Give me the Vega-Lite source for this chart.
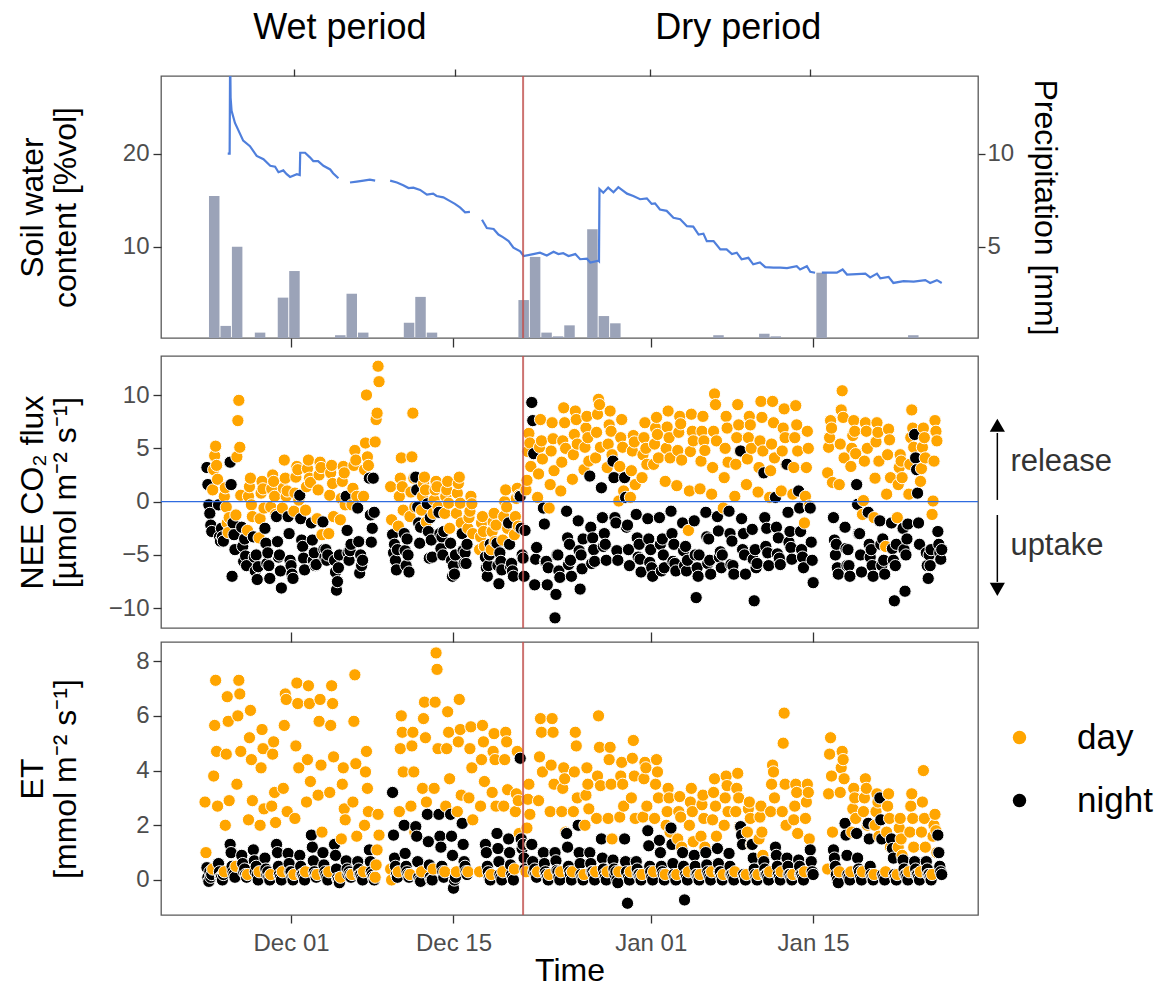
{
"$schema": "https://vega.github.io/schema/vega-lite/v6.json",
"padding": {"left": 15, "top": 9, "right": 2, "bottom": 0},
"background": "white",
"config": {
 "font": "Liberation Sans",
 "view": {"stroke": "#595959", "strokeWidth": 1.3},
 "axis": {"labelFont": "Liberation Sans", "labelFontSize": 24, "labelColor": "#4d4d4d", "tickColor": "#333333", "tickWidth": 1.3, "titleFont": "Liberation Sans", "titleFontSize": 32, "titleFontWeight": "normal", "titleColor": "#000000", "grid": false, "domain": false},
 "legend": {"labelFont": "Liberation Sans"}
},
"datasets": {
"pr": [
{"t":"2019-11-24T00:00","p":7.73},{"t":"2019-11-25T00:00","p":0.74},{"t":"2019-11-26T00:00","p":5.0},{"t":"2019-11-28T00:00","p":0.38},{"t":"2019-11-30T00:00","p":2.26},{"t":"2019-12-01T00:00","p":3.69},{"t":"2019-12-05T00:00","p":0.24},{"t":"2019-12-06T00:00","p":2.47},{"t":"2019-12-07T00:00","p":0.38},{"t":"2019-12-11T00:00","p":0.91},{"t":"2019-12-12T00:00","p":2.3},{"t":"2019-12-13T00:00","p":0.38},{"t":"2019-12-16T00:00","p":0.08},{"t":"2019-12-21T00:00","p":2.13},{"t":"2019-12-22T00:00","p":4.45},{"t":"2019-12-23T00:00","p":0.38},{"t":"2019-12-24T00:00","p":0.18},{"t":"2019-12-25T00:00","p":0.77},{"t":"2019-12-27T00:00","p":5.93},{"t":"2019-12-28T00:00","p":1.27},{"t":"2019-12-29T00:00","p":0.88},{"t":"2020-01-07T00:00","p":0.24},{"t":"2020-01-11T00:00","p":0.32},{"t":"2020-01-12T00:00","p":0.18},{"t":"2020-01-16T00:00","p":3.6},{"t":"2020-01-24T00:00","p":0.24}
],
"swc": [
{"t":"2019-11-25T13:00","v":20.0,"s":1},{"t":"2019-11-25T17:00","v":20.0,"s":1},{"t":"2019-11-25T18:00","v":31,"s":1},{"t":"2019-11-25T19:00","v":26.0,"s":1},{"t":"2019-11-25T21:00","v":24.6,"s":1},{"t":"2019-11-26T04:00","v":23.3,"s":1},{"t":"2019-11-26T21:00","v":21.4,"s":1},{"t":"2019-11-27T11:00","v":20.8,"s":1},{"t":"2019-11-28T01:00","v":19.75,"s":1},{"t":"2019-11-28T15:00","v":19.4,"s":1},{"t":"2019-11-29T05:00","v":18.7,"s":1},{"t":"2019-11-29T15:00","v":18.6,"s":1},{"t":"2019-11-29T22:00","v":18.0,"s":1},{"t":"2019-11-30T08:00","v":18.2,"s":1},{"t":"2019-11-30T15:00","v":17.8,"s":1},{"t":"2019-11-30T22:00","v":17.5,"s":1},{"t":"2019-12-01T12:00","v":17.8,"s":1},{"t":"2019-12-01T18:00","v":17.7,"s":1},{"t":"2019-12-01T19:00","v":20.1,"s":1},{"t":"2019-12-02T05:00","v":20.1,"s":1},{"t":"2019-12-02T15:00","v":19.6,"s":1},{"t":"2019-12-02T22:00","v":19.2,"s":1},{"t":"2019-12-03T08:00","v":19.2,"s":1},{"t":"2019-12-03T19:00","v":18.7,"s":1},{"t":"2019-12-04T09:00","v":18.3,"s":1},{"t":"2019-12-04T15:00","v":17.9,"s":1},{"t":"2019-12-05T02:00","v":17.35,"s":1},
{"t":"2019-12-06T02:00","v":16.9,"s":2},{"t":"2019-12-06T16:00","v":17.0,"s":2},{"t":"2019-12-07T06:00","v":17.1,"s":2},{"t":"2019-12-07T19:00","v":17.2,"s":2},{"t":"2019-12-08T06:00","v":17.1,"s":2},
{"t":"2019-12-09T13:00","v":17.1,"s":3},{"t":"2019-12-10T03:00","v":16.9,"s":3},{"t":"2019-12-10T16:00","v":16.6,"s":3},{"t":"2019-12-11T03:00","v":16.3,"s":3},{"t":"2019-12-11T13:00","v":16.35,"s":3},{"t":"2019-12-12T03:00","v":16.1,"s":3},{"t":"2019-12-12T17:00","v":15.6,"s":3},{"t":"2019-12-13T06:00","v":15.7,"s":3},{"t":"2019-12-13T13:00","v":15.45,"s":3},{"t":"2019-12-14T03:00","v":15.3,"s":3},{"t":"2019-12-14T17:00","v":14.9,"s":3},{"t":"2019-12-15T03:00","v":14.6,"s":3},{"t":"2019-12-15T14:00","v":14.2,"s":3},{"t":"2019-12-16T00:00","v":13.7,"s":3},{"t":"2019-12-16T10:00","v":13.75,"s":3},
{"t":"2019-12-17T11:00","v":12.9,"s":4},{"t":"2019-12-17T21:00","v":12.0,"s":4},{"t":"2019-12-18T11:00","v":11.9,"s":4},{"t":"2019-12-18T21:00","v":11.3,"s":4},{"t":"2019-12-19T07:00","v":11.0,"s":4},{"t":"2019-12-19T18:00","v":10.6,"s":4},{"t":"2019-12-20T04:00","v":9.9,"s":4},{"t":"2019-12-20T18:00","v":9.5,"s":4},{"t":"2019-12-21T01:00","v":9.0,"s":4},{"t":"2019-12-21T21:00","v":9.2,"s":4},{"t":"2019-12-22T11:00","v":9.35,"s":4},{"t":"2019-12-23T01:00","v":9.05,"s":4},{"t":"2019-12-23T15:00","v":9.45,"s":4},{"t":"2019-12-24T01:00","v":9.2,"s":4},{"t":"2019-12-24T11:00","v":9.3,"s":4},{"t":"2019-12-24T22:00","v":9.0,"s":4},{"t":"2019-12-25T12:00","v":9.2,"s":4},{"t":"2019-12-25T22:00","v":8.65,"s":4},{"t":"2019-12-26T12:00","v":8.7,"s":4},{"t":"2019-12-26T19:00","v":8.3,"s":4},{"t":"2019-12-27T12:00","v":8.5,"s":4},{"t":"2019-12-27T13:00","v":8.45,"s":4},{"t":"2019-12-27T14:00","v":16.2,"s":4},{"t":"2019-12-27T22:00","v":15.8,"s":4},{"t":"2019-12-28T08:00","v":16.35,"s":4},{"t":"2019-12-28T19:00","v":15.85,"s":4},{"t":"2019-12-29T05:00","v":16.4,"s":4},{"t":"2019-12-29T23:00","v":15.7,"s":4},{"t":"2019-12-30T12:00","v":15.45,"s":4},{"t":"2019-12-31T02:00","v":15.1,"s":4},{"t":"2019-12-31T16:00","v":15.2,"s":4},{"t":"2020-01-01T02:00","v":14.6,"s":4},{"t":"2020-01-01T09:00","v":14.65,"s":4},{"t":"2020-01-01T19:00","v":14.0,"s":4},{"t":"2020-01-02T09:00","v":13.85,"s":4},{"t":"2020-01-02T23:00","v":13.1,"s":4},{"t":"2020-01-03T13:00","v":12.95,"s":4},{"t":"2020-01-04T03:00","v":12.2,"s":4},{"t":"2020-01-04T16:00","v":12.15,"s":4},{"t":"2020-01-05T03:00","v":11.3,"s":4},{"t":"2020-01-05T13:00","v":11.4,"s":4},{"t":"2020-01-05T20:00","v":10.6,"s":4},{"t":"2020-01-06T10:00","v":10.6,"s":4},{"t":"2020-01-07T00:00","v":9.7,"s":4},{"t":"2020-01-07T13:00","v":9.7,"s":4},{"t":"2020-01-08T00:00","v":9.2,"s":4},{"t":"2020-01-08T10:00","v":9.35,"s":4},{"t":"2020-01-08T20:00","v":8.65,"s":4},{"t":"2020-01-09T10:00","v":8.8,"s":4},{"t":"2020-01-09T20:00","v":8.1,"s":4},{"t":"2020-01-10T10:00","v":8.3,"s":4},{"t":"2020-01-10T21:00","v":7.8,"s":4},{"t":"2020-01-11T14:00","v":7.75,"s":4},{"t":"2020-01-12T04:00","v":7.75,"s":4},{"t":"2020-01-12T18:00","v":7.7,"s":4},{"t":"2020-01-13T14:00","v":7.9,"s":4},{"t":"2020-01-13T21:00","v":7.55,"s":4},{"t":"2020-01-14T11:00","v":7.9,"s":4},{"t":"2020-01-14T18:00","v":7.3,"s":4},{"t":"2020-01-15T04:00","v":7.2,"s":4},
{"t":"2020-01-15T18:00","v":7.2,"s":5},{"t":"2020-01-17T01:00","v":7.2,"s":5},{"t":"2020-01-17T13:00","v":7.55,"s":5},{"t":"2020-01-17T22:00","v":7.0,"s":5},{"t":"2020-01-18T18:00","v":7.05,"s":5},{"t":"2020-01-19T12:00","v":7.1,"s":5},{"t":"2020-01-19T22:00","v":6.7,"s":5},{"t":"2020-01-20T12:00","v":7.1,"s":5},{"t":"2020-01-20T19:00","v":6.6,"s":5},{"t":"2020-01-21T12:00","v":6.75,"s":5},{"t":"2020-01-21T22:00","v":6.1,"s":5},{"t":"2020-01-22T19:00","v":6.3,"s":5},{"t":"2020-01-23T16:00","v":6.25,"s":5},{"t":"2020-01-24T16:00","v":6.4,"s":5},{"t":"2020-01-25T02:00","v":6.1,"s":5},{"t":"2020-01-25T16:00","v":6.4,"s":5},{"t":"2020-01-26T02:00","v":6.1,"s":5}
],
"per": [{"t":"2019-12-05T05:00","v":33.5,"lab":"Wet period"},{"t":"2020-01-08T13:00","v":33.5,"lab":"Dry period"}],
"red": [{"t":"2019-12-21T00:00"}],
"zero": [{"n":0}],
"arr": [{"t":"2020-01-30T21:00","n":0.16,"n2":6.44},{"t":"2020-01-30T21:00","n":-1.25,"n2":-7.53}],
"head": [{"t":"2020-01-30T21:00","n":7.17,"sh":"triangle-up"},{"t":"2020-01-30T21:00","n":-8.23,"sh":"triangle-down"}],
"lab": [{"t":"2020-02-01T00:00","n":3.72,"lab":"release"},{"t":"2020-02-01T00:00","n":-4.15,"lab":"uptake"}],
"obs": [
{"t":"2019-11-23T14:00","e":2.85,"d":"day"},{"t":"2019-11-23T16:00","e":1.0,"d":"day"},{"t":"2019-11-23T18:00","n":3.2,"e":0.45,"d":"night"},{"t":"2019-11-23T20:00","n":1.6,"e":0.1,"d":"night"},{"t":"2019-11-23T22:00","n":-0.3,"e":-0.05,"d":"night"},
{"t":"2019-11-24T00:00","n":-1.1,"e":0.3,"d":"night"},{"t":"2019-11-24T02:00","n":-2.2,"e":0.1,"d":"night"},{"t":"2019-11-24T04:00","n":-2.8,"e":0.2,"d":"night"},{"t":"2019-11-24T06:00","n":1.1,"e":0.4,"d":"day"},{"t":"2019-11-24T08:00","n":3.0,"e":3.8,"d":"day"},{"t":"2019-11-24T10:00","n":4.3,"e":5.65,"d":"day"},{"t":"2019-11-24T12:00","n":5.2,"e":7.3,"d":"day"},{"t":"2019-11-24T14:00","n":3.4,"e":4.7,"d":"day"},{"t":"2019-11-24T16:00","n":2.1,"e":2.7,"d":"day"},{"t":"2019-11-24T18:00","n":-0.3,"e":0.6,"d":"night"},{"t":"2019-11-24T20:00","n":-3.3,"e":0.3,"d":"night"},{"t":"2019-11-24T22:00","n":-3.7,"e":0.1,"d":"night"},
{"t":"2019-11-25T00:00","n":-2.5,"e":0.1,"d":"night"},{"t":"2019-11-25T02:00","n":-3.3,"e":0.0,"d":"night"},{"t":"2019-11-25T04:00","n":-3.7,"e":0.2,"d":"night"},{"t":"2019-11-25T06:00","n":0.5,"e":0.3,"d":"day"},{"t":"2019-11-25T08:00","n":1.3,"e":2.0,"d":"day"},{"t":"2019-11-25T10:00","n":-0.5,"e":4.6,"d":"day"},{"t":"2019-11-25T12:00","n":-2.0,"e":6.7,"d":"day"},{"t":"2019-11-25T14:00","n":-2.9,"e":5.8,"d":"day"},{"t":"2019-11-25T16:00","n":-1.5,"e":2.9,"d":"day"},{"t":"2019-11-25T18:00","n":3.7,"e":1.3,"d":"night"},{"t":"2019-11-25T20:00","n":1.6,"e":1.0,"d":"night"},{"t":"2019-11-25T22:00","n":-7.0,"e":0.5,"d":"night"},
{"t":"2019-11-26T00:00","n":-2.0,"e":0.3,"d":"night"},{"t":"2019-11-26T02:00","n":-3.1,"e":0.2,"d":"night"},{"t":"2019-11-26T04:00","n":-4.5,"e":0.1,"d":"night"},{"t":"2019-11-26T06:00","n":-1.25,"e":0.5,"d":"day"},{"t":"2019-11-26T08:00","n":4.2,"e":3.5,"d":"day"},{"t":"2019-11-26T10:00","n":7.6,"e":6.0,"d":"day"},{"t":"2019-11-26T12:00","n":9.5,"e":7.3,"d":"day"},{"t":"2019-11-26T14:00","n":5.1,"e":6.8,"d":"day"},{"t":"2019-11-26T16:00","n":0.6,"e":4.7,"d":"day"},{"t":"2019-11-26T18:00","n":-2.4,"e":0.9,"d":"night"},{"t":"2019-11-26T20:00","n":-4.2,"e":0.6,"d":"night"},{"t":"2019-11-26T22:00","n":-5.6,"e":0.3,"d":"night"},
{"t":"2019-11-27T00:00","n":-3.5,"e":0.4,"d":"night"},{"t":"2019-11-27T02:00","n":-5.1,"e":0.2,"d":"night"},{"t":"2019-11-27T04:00","n":-6.0,"e":0.1,"d":"night"},{"t":"2019-11-27T06:00","n":-2.7,"e":0.2,"d":"day"},{"t":"2019-11-27T08:00","n":0.5,"e":2.2,"d":"day"},{"t":"2019-11-27T10:00","n":1.4,"e":5.2,"d":"day"},{"t":"2019-11-27T12:00","n":2.2,"e":6.2,"d":"day"},{"t":"2019-11-27T14:00","n":-0.3,"e":4.4,"d":"day"},{"t":"2019-11-27T16:00","n":-1.4,"e":2.9,"d":"day"},{"t":"2019-11-27T18:00","n":-3.3,"e":1.1,"d":"night"},{"t":"2019-11-27T20:00","n":-5.2,"e":0.7,"d":"night"},{"t":"2019-11-27T22:00","n":-6.5,"e":0.3,"d":"night"},
{"t":"2019-11-28T00:00","n":-5.0,"e":0.5,"d":"night"},{"t":"2019-11-28T02:00","n":-7.3,"e":0.2,"d":"night"},{"t":"2019-11-28T04:00","n":-6.1,"e":0.0,"d":"night"},{"t":"2019-11-28T06:00","n":-3.4,"e":0.3,"d":"day"},{"t":"2019-11-28T08:00","n":-1.6,"e":2.0,"d":"day"},{"t":"2019-11-28T10:00","n":0.8,"e":4.1,"d":"day"},{"t":"2019-11-28T12:00","n":1.9,"e":5.5,"d":"day"},{"t":"2019-11-28T14:00","n":1.2,"e":4.8,"d":"day"},{"t":"2019-11-28T16:00","n":-0.6,"e":2.6,"d":"day"},{"t":"2019-11-28T18:00","n":-2.5,"e":0.8,"d":"night"},{"t":"2019-11-28T20:00","n":-3.9,"e":0.4,"d":"night"},{"t":"2019-11-28T22:00","n":-5.8,"e":0.2,"d":"night"},
{"t":"2019-11-29T00:00","n":-4.8,"e":0.3,"d":"night"},{"t":"2019-11-29T02:00","n":-6.0,"e":0.1,"d":"night"},{"t":"2019-11-29T04:00","n":-7.2,"e":0.0,"d":"night"},{"t":"2019-11-29T06:00","n":-0.5,"e":0.2,"d":"day"},{"t":"2019-11-29T08:00","n":1.2,"e":2.7,"d":"day"},{"t":"2019-11-29T10:00","n":2.5,"e":4.6,"d":"day"},{"t":"2019-11-29T12:00","n":1.9,"e":5.05,"d":"day"},{"t":"2019-11-29T14:00","n":0.5,"e":3.2,"d":"day"},{"t":"2019-11-29T16:00","n":-1.2,"e":2.1,"d":"day"},{"t":"2019-11-29T18:00","n":-1.4,"e":1.3,"d":"night"},{"t":"2019-11-29T20:00","n":-3.75,"e":1.0,"d":"night"},{"t":"2019-11-29T22:00","n":-5.2,"e":0.5,"d":"night"},
{"t":"2019-11-30T00:00","n":-5.0,"e":0.2,"d":"night"},{"t":"2019-11-30T02:00","n":-6.5,"e":0.1,"d":"night"},{"t":"2019-11-30T04:00","n":-8.1,"e":0.0,"d":"night"},{"t":"2019-11-30T06:00","n":-0.6,"e":0.3,"d":"day"},{"t":"2019-11-30T08:00","n":1.25,"e":3.35,"d":"day"},{"t":"2019-11-30T10:00","n":3.9,"e":5.65,"d":"day"},{"t":"2019-11-30T12:00","n":2.2,"e":6.8,"d":"day"},{"t":"2019-11-30T14:00","n":0.5,"e":6.6,"d":"day"},{"t":"2019-11-30T16:00","n":1.0,"e":2.5,"d":"day"},{"t":"2019-11-30T18:00","n":-1.4,"e":0.97,"d":"night"},{"t":"2019-11-30T20:00","n":-3.0,"e":0.6,"d":"night"},{"t":"2019-11-30T22:00","n":-5.5,"e":0.3,"d":"night"},
{"t":"2019-12-01T00:00","n":-6.0,"e":0.3,"d":"night"},{"t":"2019-12-01T02:00","n":-6.8,"e":0.1,"d":"night"},{"t":"2019-12-01T04:00","n":-7.2,"e":0.0,"d":"night"},{"t":"2019-12-01T06:00","n":-0.9,"e":0.2,"d":"day"},{"t":"2019-12-01T08:00","n":0.8,"e":2.25,"d":"day"},{"t":"2019-12-01T10:00","n":2.3,"e":4.9,"d":"day"},{"t":"2019-12-01T12:00","n":3.3,"e":7.2,"d":"day"},{"t":"2019-12-01T14:00","n":3.0,"e":6.45,"d":"day"},{"t":"2019-12-01T16:00","n":0.15,"e":4.1,"d":"day"},{"t":"2019-12-01T18:00","n":0.6,"e":0.9,"d":"night"},{"t":"2019-12-01T20:00","n":-1.6,"e":0.5,"d":"night"},{"t":"2019-12-01T22:00","n":-3.6,"e":0.2,"d":"night"},
{"t":"2019-12-02T00:00","n":-4.2,"e":0.2,"d":"night"},{"t":"2019-12-02T02:00","n":-5.3,"e":0.1,"d":"night"},{"t":"2019-12-02T04:00","n":-6.4,"e":0.0,"d":"night"},{"t":"2019-12-02T06:00","n":-0.8,"e":0.3,"d":"day"},{"t":"2019-12-02T08:00","n":1.4,"e":2.85,"d":"day"},{"t":"2019-12-02T10:00","n":3.1,"e":4.4,"d":"day"},{"t":"2019-12-02T12:00","n":3.9,"e":7.1,"d":"day"},{"t":"2019-12-02T14:00","n":2.2,"e":6.45,"d":"day"},{"t":"2019-12-02T16:00","n":1.8,"e":3.6,"d":"day"},{"t":"2019-12-02T18:00","n":-2.0,"e":1.64,"d":"night"},{"t":"2019-12-02T20:00","n":-3.6,"e":1.2,"d":"night"},{"t":"2019-12-02T22:00","n":-5.5,"e":0.7,"d":"night"},
{"t":"2019-12-03T00:00","n":-4.8,"e":0.3,"d":"night"},{"t":"2019-12-03T02:00","n":-6.0,"e":0.2,"d":"night"},{"t":"2019-12-03T04:00","n":-5.9,"e":0.1,"d":"night"},{"t":"2019-12-03T06:00","n":-1.6,"e":0.2,"d":"day"},{"t":"2019-12-03T08:00","n":1.1,"e":3.1,"d":"day"},{"t":"2019-12-03T10:00","n":2.5,"e":5.8,"d":"day"},{"t":"2019-12-03T12:00","n":3.7,"e":6.6,"d":"day"},{"t":"2019-12-03T14:00","n":3.2,"e":4.2,"d":"day"},{"t":"2019-12-03T16:00","n":-3.1,"e":1.75,"d":"day"},{"t":"2019-12-03T18:00","n":-1.9,"e":1.0,"d":"night"},{"t":"2019-12-03T20:00","n":-4.5,"e":0.55,"d":"night"},{"t":"2019-12-03T22:00","n":-5.2,"e":0.3,"d":"night"},
{"t":"2019-12-04T00:00","n":-4.5,"e":0.2,"d":"night"},{"t":"2019-12-04T02:00","n":-5.5,"e":0.1,"d":"night"},{"t":"2019-12-04T04:00","n":-5.0,"e":0.0,"d":"night"},{"t":"2019-12-04T06:00","n":-3.0,"e":0.3,"d":"day"},{"t":"2019-12-04T08:00","n":0.6,"e":3.2,"d":"day"},{"t":"2019-12-04T10:00","n":2.7,"e":5.65,"d":"day"},{"t":"2019-12-04T12:00","n":3.4,"e":7.1,"d":"day"},{"t":"2019-12-04T14:00","n":1.7,"e":6.45,"d":"day"},{"t":"2019-12-04T16:00","n":-1.4,"e":4.5,"d":"day"},{"t":"2019-12-04T18:00","n":-5.5,"e":1.3,"d":"night"},{"t":"2019-12-04T20:00","n":-6.6,"e":0.9,"d":"night"},{"t":"2019-12-04T22:00","n":-8.3,"e":0.4,"d":"night"},
{"t":"2019-12-05T00:00","n":-7.5,"e":0.06,"d":"night"},{"t":"2019-12-05T02:00","n":-6.2,"e":0.0,"d":"night"},{"t":"2019-12-05T04:00","n":-5.0,"e":-0.1,"d":"night"},{"t":"2019-12-05T06:00","n":-1.7,"e":0.1,"d":"day"},{"t":"2019-12-05T08:00","n":0.3,"e":1.5,"d":"day"},{"t":"2019-12-05T10:00","n":1.9,"e":3.5,"d":"day"},{"t":"2019-12-05T12:00","n":3.3,"e":4.1,"d":"day"},{"t":"2019-12-05T14:00","n":2.7,"e":2.6,"d":"day"},{"t":"2019-12-05T16:00","n":-0.3,"e":2.2,"d":"day"},{"t":"2019-12-05T18:00","n":0.5,"e":0.7,"d":"night"},{"t":"2019-12-05T20:00","n":-2.7,"e":0.4,"d":"night"},{"t":"2019-12-05T22:00","n":-4.8,"e":0.2,"d":"night"},
{"t":"2019-12-06T00:00","n":-5.5,"e":0.3,"d":"night"},{"t":"2019-12-06T02:00","n":-4.6,"e":0.2,"d":"night"},{"t":"2019-12-06T04:00","n":-4.0,"e":0.1,"d":"night"},{"t":"2019-12-06T06:00","n":-0.3,"e":0.2,"d":"day"},{"t":"2019-12-06T08:00","n":1.25,"e":2.85,"d":"day"},{"t":"2019-12-06T10:00","n":3.4,"e":5.8,"d":"day"},{"t":"2019-12-06T12:00","n":4.8,"e":7.5,"d":"day"},{"t":"2019-12-06T14:00","n":3.9,"e":4.25,"d":"day"},{"t":"2019-12-06T16:00","n":0.5,"e":1.6,"d":"day"},{"t":"2019-12-06T18:00","n":-0.6,"e":0.67,"d":"night"},{"t":"2019-12-06T20:00","n":-3.75,"e":0.4,"d":"night"},{"t":"2019-12-06T22:00","n":-6.7,"e":0.2,"d":"night"},
{"t":"2019-12-07T00:00","n":-5.0,"e":0.2,"d":"night"},{"t":"2019-12-07T02:00","n":-6.0,"e":0.1,"d":"night"},{"t":"2019-12-07T04:00","n":-5.5,"e":0.0,"d":"night"},{"t":"2019-12-07T06:00","n":0.5,"e":0.3,"d":"day"},{"t":"2019-12-07T08:00","n":3.0,"e":2.0,"d":"day"},{"t":"2019-12-07T10:00","n":5.5,"e":3.95,"d":"day"},{"t":"2019-12-07T12:00","n":10.0,"e":4.7,"d":"day"},{"t":"2019-12-07T14:00","n":4.2,"e":3.35,"d":"day"},{"t":"2019-12-07T16:00","n":3.4,"e":2.5,"d":"day"},{"t":"2019-12-07T18:00","n":2.2,"e":1.1,"d":"night"},{"t":"2019-12-07T20:00","n":-1.25,"e":0.67,"d":"night"},{"t":"2019-12-07T22:00","n":-3.8,"e":0.3,"d":"night"},
{"t":"2019-12-08T00:00","n":-2.5,"e":0.2,"d":"night"},{"t":"2019-12-08T02:00","n":2.2,"e":0.1,"d":"night"},{"t":"2019-12-08T04:00","n":-1.0,"e":0.0,"d":"night"},{"t":"2019-12-08T06:00","n":5.6,"e":0.1,"d":"day"},{"t":"2019-12-08T08:00","n":7.7,"e":0.55,"d":"day"},{"t":"2019-12-08T10:00","n":8.3,"e":1.1,"d":"day"},{"t":"2019-12-08T12:00","n":12.7,"e":2.4,"d":"day"},{"t":"2019-12-08T14:00","n":11.25,"e":1.64,"d":"day"},
{"t":"2019-12-09T14:00","n":1.4,"e":0.4,"d":"day"},{"t":"2019-12-09T16:00","n":-1.7,"e":0.0,"d":"day"},{"t":"2019-12-09T18:00","n":-3.1,"e":3.2,"d":"night"},{"t":"2019-12-09T20:00","n":-4.8,"e":1.64,"d":"night"},{"t":"2019-12-09T22:00","n":-4.0,"e":0.8,"d":"night"},
{"t":"2019-12-10T00:00","n":-5.5,"e":0.5,"d":"night"},{"t":"2019-12-10T02:00","n":-6.4,"e":0.2,"d":"night"},{"t":"2019-12-10T04:00","n":-4.5,"e":0.1,"d":"night"},{"t":"2019-12-10T06:00","n":-2.3,"e":0.3,"d":"day"},{"t":"2019-12-10T08:00","n":0.5,"e":2.5,"d":"day"},{"t":"2019-12-10T10:00","n":2.2,"e":4.8,"d":"day"},{"t":"2019-12-10T12:00","n":4.1,"e":6.0,"d":"day"},{"t":"2019-12-10T14:00","n":1.4,"e":5.4,"d":"day"},{"t":"2019-12-10T16:00","n":-0.8,"e":3.95,"d":"day"},{"t":"2019-12-10T18:00","n":-3.0,"e":2.0,"d":"night"},{"t":"2019-12-10T20:00","n":-4.6,"e":0.97,"d":"night"},{"t":"2019-12-10T22:00","n":-6.0,"e":0.5,"d":"night"},
{"t":"2019-12-11T00:00","n":-3.5,"e":0.3,"d":"night"},{"t":"2019-12-11T02:00","n":-5.0,"e":0.2,"d":"night"},{"t":"2019-12-11T04:00","n":-6.6,"e":0.1,"d":"night"},{"t":"2019-12-11T06:00","n":-1.4,"e":0.2,"d":"day"},{"t":"2019-12-11T08:00","n":0.9,"e":2.7,"d":"day"},{"t":"2019-12-11T10:00","n":4.2,"e":4.9,"d":"day"},{"t":"2019-12-11T12:00","n":8.3,"e":5.4,"d":"day"},{"t":"2019-12-11T14:00","n":2.2,"e":3.95,"d":"day"},{"t":"2019-12-11T16:00","n":-0.5,"e":1.75,"d":"day"},{"t":"2019-12-11T18:00","n":2.3,"e":1.95,"d":"night"},{"t":"2019-12-11T20:00","n":1.1,"e":1.6,"d":"night"},{"t":"2019-12-11T22:00","n":-0.5,"e":0.67,"d":"night"},
{"t":"2019-12-12T00:00","n":-2.0,"e":0.1,"d":"night"},{"t":"2019-12-12T02:00","n":-3.9,"e":0.0,"d":"night"},{"t":"2019-12-12T04:00","n":-2.4,"e":-0.05,"d":"night"},{"t":"2019-12-12T06:00","n":-0.8,"e":0.3,"d":"day"},{"t":"2019-12-12T08:00","n":0.5,"e":3.35,"d":"day"},{"t":"2019-12-12T10:00","n":1.7,"e":5.9,"d":"day"},{"t":"2019-12-12T12:00","n":2.3,"e":6.5,"d":"day"},{"t":"2019-12-12T14:00","n":1.1,"e":5.2,"d":"day"},{"t":"2019-12-12T16:00","n":-1.9,"e":2.85,"d":"day"},{"t":"2019-12-12T18:00","n":-0.2,"e":2.4,"d":"night"},{"t":"2019-12-12T20:00","n":-2.8,"e":1.4,"d":"night"},{"t":"2019-12-12T22:00","n":-5.3,"e":0.55,"d":"night"},
{"t":"2019-12-13T00:00","n":-1.5,"e":0.1,"d":"night"},{"t":"2019-12-13T02:00","n":-3.6,"e":0.0,"d":"night"},{"t":"2019-12-13T04:00","n":-5.2,"e":0.0,"d":"night"},{"t":"2019-12-13T06:00","n":-1.1,"e":0.4,"d":"day"},{"t":"2019-12-13T08:00","n":0.15,"e":3.35,"d":"day"},{"t":"2019-12-13T10:00","n":1.1,"e":6.5,"d":"day"},{"t":"2019-12-13T12:00","n":1.9,"e":8.3,"d":"day"},{"t":"2019-12-13T14:00","n":1.4,"e":7.7,"d":"day"},{"t":"2019-12-13T16:00","n":-0.5,"e":4.8,"d":"day"},{"t":"2019-12-13T18:00","n":-1.0,"e":2.4,"d":"night"},{"t":"2019-12-13T20:00","n":-3.0,"e":1.6,"d":"night"},{"t":"2019-12-13T22:00","n":-4.4,"e":1.2,"d":"night"},
{"t":"2019-12-14T00:00","n":-3.3,"e":0.5,"d":"night"},{"t":"2019-12-14T02:00","n":-5.0,"e":0.3,"d":"night"},{"t":"2019-12-14T04:00","n":-2.8,"e":0.1,"d":"night"},{"t":"2019-12-14T06:00","n":-1.1,"e":0.3,"d":"day"},{"t":"2019-12-14T08:00","n":0.5,"e":2.7,"d":"day"},{"t":"2019-12-14T10:00","n":1.1,"e":4.8,"d":"day"},{"t":"2019-12-14T12:00","n":1.9,"e":6.15,"d":"day"},{"t":"2019-12-14T14:00","n":-0.15,"e":5.4,"d":"day"},{"t":"2019-12-14T16:00","n":-2.5,"e":3.7,"d":"day"},{"t":"2019-12-14T18:00","n":-3.9,"e":2.4,"d":"night"},{"t":"2019-12-14T20:00","n":-5.5,"e":1.6,"d":"night"},{"t":"2019-12-14T22:00","n":-7.0,"e":0.9,"d":"night"},
{"t":"2019-12-15T00:00","n":-6.0,"e":-0.3,"d":"night"},{"t":"2019-12-15T02:00","n":-6.8,"e":0.0,"d":"night"},{"t":"2019-12-15T04:00","n":-5.0,"e":0.1,"d":"night"},{"t":"2019-12-15T06:00","n":-1.1,"e":0.3,"d":"day"},{"t":"2019-12-15T08:00","n":0.8,"e":2.5,"d":"day"},{"t":"2019-12-15T10:00","n":1.7,"e":5.05,"d":"day"},{"t":"2019-12-15T12:00","n":2.3,"e":6.6,"d":"day"},{"t":"2019-12-15T14:00","n":-0.15,"e":5.5,"d":"day"},{"t":"2019-12-15T16:00","n":-2.0,"e":3.1,"d":"day"},{"t":"2019-12-15T18:00","n":-3.0,"e":2.07,"d":"night"},{"t":"2019-12-15T20:00","n":-4.6,"e":1.3,"d":"night"},{"t":"2019-12-15T22:00","n":-5.8,"e":0.67,"d":"night"},
{"t":"2019-12-16T00:00","n":-4.8,"e":0.5,"d":"night"},{"t":"2019-12-16T02:00","n":-5.8,"e":0.3,"d":"night"},{"t":"2019-12-16T04:00","n":-4.0,"e":0.2,"d":"night"},{"t":"2019-12-16T06:00","n":-2.5,"e":0.3,"d":"day"},{"t":"2019-12-16T08:00","n":-1.5,"e":3.0,"d":"day"},{"t":"2019-12-16T10:00","n":-0.9,"e":4.8,"d":"day"},{"t":"2019-12-16T12:00","n":0.5,"e":5.6,"d":"day"},{"t":"2019-12-16T14:00","n":-0.2,"e":4.1,"d":"day"},{"t":"2019-12-16T16:00","n":-3.0,"e":2.2,"d":"day"},
{"t":"2019-12-17T06:00","n":-4.5,"e":0.3,"d":"day"},{"t":"2019-12-17T08:00","n":-3.3,"e":2.7,"d":"day"},{"t":"2019-12-17T10:00","n":-2.0,"e":4.4,"d":"day"},{"t":"2019-12-17T12:00","n":-1.4,"e":5.65,"d":"day"},{"t":"2019-12-17T14:00","n":-2.8,"e":5.05,"d":"day"},{"t":"2019-12-17T16:00","n":-4.2,"e":3.6,"d":"day"},{"t":"2019-12-17T18:00","n":-5.2,"e":1.3,"d":"night"},{"t":"2019-12-17T20:00","n":-6.2,"e":1.0,"d":"night"},{"t":"2019-12-17T22:00","n":-7.0,"e":0.5,"d":"night"},
{"t":"2019-12-18T00:00","n":-6.0,"e":0.3,"d":"night"},{"t":"2019-12-18T02:00","n":-5.0,"e":0.1,"d":"night"},{"t":"2019-12-18T04:00","n":-4.0,"e":0.0,"d":"night"},{"t":"2019-12-18T06:00","n":-4.5,"e":0.2,"d":"day"},{"t":"2019-12-18T08:00","n":-2.8,"e":3.2,"d":"day"},{"t":"2019-12-18T10:00","n":-1.9,"e":4.7,"d":"day"},{"t":"2019-12-18T12:00","n":-1.1,"e":5.35,"d":"day"},{"t":"2019-12-18T14:00","n":-3.75,"e":4.4,"d":"day"},{"t":"2019-12-18T16:00","n":-2.2,"e":2.7,"d":"day"},{"t":"2019-12-18T18:00","n":-3.9,"e":1.7,"d":"night"},{"t":"2019-12-18T20:00","n":-6.0,"e":1.15,"d":"night"},{"t":"2019-12-18T22:00","n":-7.7,"e":0.67,"d":"night"},
{"t":"2019-12-19T00:00","n":-4.8,"e":0.2,"d":"night"},{"t":"2019-12-19T02:00","n":-5.6,"e":0.1,"d":"night"},{"t":"2019-12-19T04:00","n":-6.4,"e":0.0,"d":"night"},{"t":"2019-12-19T06:00","n":-3.6,"e":0.3,"d":"day"},{"t":"2019-12-19T08:00","n":-1.4,"e":2.7,"d":"day"},{"t":"2019-12-19T10:00","n":0.0,"e":4.4,"d":"day"},{"t":"2019-12-19T12:00","n":1.1,"e":5.4,"d":"day"},{"t":"2019-12-19T14:00","n":-0.5,"e":5.05,"d":"day"},{"t":"2019-12-19T16:00","n":-2.5,"e":3.3,"d":"day"},{"t":"2019-12-19T18:00","n":-2.0,"e":1.5,"d":"night"},{"t":"2019-12-19T20:00","n":-4.0,"e":1.0,"d":"night"},{"t":"2019-12-19T22:00","n":-6.1,"e":0.55,"d":"night"},
{"t":"2019-12-20T00:00","n":-5.8,"e":0.2,"d":"night"},{"t":"2019-12-20T02:00","n":-6.5,"e":0.1,"d":"night"},{"t":"2019-12-20T04:00","n":-7.0,"e":0.0,"d":"night"},{"t":"2019-12-20T06:00","n":-3.1,"e":0.4,"d":"day"},{"t":"2019-12-20T08:00","n":-1.4,"e":2.5,"d":"day"},{"t":"2019-12-20T10:00","n":0.3,"e":3.15,"d":"day"},{"t":"2019-12-20T12:00","n":1.25,"e":4.7,"d":"day"},{"t":"2019-12-20T14:00","n":-2.3,"e":2.9,"d":"day"},{"t":"2019-12-20T16:00","n":0.6,"e":1.7,"d":"day"},{"t":"2019-12-20T18:00","n":0.5,"e":4.45,"d":"night"},{"t":"2019-12-20T20:00","n":-2.5,"e":1.5,"d":"night"},{"t":"2019-12-20T22:00","n":-5.0,"e":1.15,"d":"night"},
{"t":"2019-12-21T00:00","n":-5.3,"e":1.3,"d":"night"},{"t":"2019-12-21T02:00","n":-7.0,"e":0.8,"d":"night"},{"t":"2019-12-21T04:00","n":-2.7,"e":0.4,"d":"night"},{"t":"2019-12-21T06:00","n":1.1,"e":0.3,"d":"day"},{"t":"2019-12-21T08:00","n":2.0,"e":1.9,"d":"day"},{"t":"2019-12-21T10:00","n":4.7,"e":2.95,"d":"day"},{"t":"2019-12-21T12:00","n":6.4,"e":3.5,"d":"day"},{"t":"2019-12-21T14:00","n":5.5,"e":2.4,"d":"day"},{"t":"2019-12-21T16:00","n":3.3,"e":1.3,"d":"day"},{"t":"2019-12-21T18:00","n":9.3,"e":1.3,"d":"night"},{"t":"2019-12-21T20:00","n":7.6,"e":0.67,"d":"night"},{"t":"2019-12-21T22:00","n":4.5,"e":0.3,"d":"night"},
{"t":"2019-12-22T00:00","n":-7.8,"e":0.4,"d":"night"},{"t":"2019-12-22T02:00","n":-5.4,"e":0.2,"d":"night"},{"t":"2019-12-22T04:00","n":-4.3,"e":0.1,"d":"night"},{"t":"2019-12-22T06:00","n":0.4,"e":0.3,"d":"day"},{"t":"2019-12-22T08:00","n":2.6,"e":2.9,"d":"day"},{"t":"2019-12-22T10:00","n":5.1,"e":4.5,"d":"day"},{"t":"2019-12-22T12:00","n":7.7,"e":5.9,"d":"day"},{"t":"2019-12-22T14:00","n":5.7,"e":5.4,"d":"day"},{"t":"2019-12-22T16:00","n":4.0,"e":3.95,"d":"day"},{"t":"2019-12-22T18:00","n":-0.6,"e":1.0,"d":"night"},{"t":"2019-12-22T20:00","n":-2.1,"e":0.6,"d":"night"},{"t":"2019-12-22T22:00","n":-5.6,"e":0.3,"d":"night"},
{"t":"2019-12-23T00:00","n":-5.6,"e":0.2,"d":"night"},{"t":"2019-12-23T02:00","n":-7.8,"e":0.1,"d":"night"},{"t":"2019-12-23T04:00","n":-6.2,"e":0.0,"d":"night"},{"t":"2019-12-23T06:00","n":-0.6,"e":0.2,"d":"day"},{"t":"2019-12-23T08:00","n":1.6,"e":2.5,"d":"day"},{"t":"2019-12-23T10:00","n":4.75,"e":4.2,"d":"day"},{"t":"2019-12-23T12:00","n":7.4,"e":5.9,"d":"day"},{"t":"2019-12-23T14:00","n":5.9,"e":5.4,"d":"day"},{"t":"2019-12-23T16:00","n":2.9,"e":3.5,"d":"day"},{"t":"2019-12-23T18:00","n":-10.9,"e":1.0,"d":"night"},{"t":"2019-12-23T20:00","n":-8.7,"e":0.7,"d":"night"},{"t":"2019-12-23T22:00","n":-5.0,"e":0.35,"d":"night"},
{"t":"2019-12-24T00:00","n":-5.0,"e":0.3,"d":"night"},{"t":"2019-12-24T02:00","n":-6.5,"e":0.1,"d":"night"},{"t":"2019-12-24T04:00","n":-7.1,"e":0.0,"d":"night"},{"t":"2019-12-24T06:00","n":1.0,"e":0.3,"d":"day"},{"t":"2019-12-24T08:00","n":3.7,"e":2.5,"d":"day"},{"t":"2019-12-24T10:00","n":5.7,"e":3.35,"d":"day"},{"t":"2019-12-24T12:00","n":8.8,"e":4.1,"d":"day"},{"t":"2019-12-24T14:00","n":7.4,"e":3.7,"d":"day"},{"t":"2019-12-24T16:00","n":5.0,"e":1.75,"d":"day"},{"t":"2019-12-24T18:00","n":-0.9,"e":1.7,"d":"night"},{"t":"2019-12-24T20:00","n":-3.4,"e":1.2,"d":"night"},{"t":"2019-12-24T22:00","n":-5.9,"e":0.5,"d":"night"},
{"t":"2019-12-25T00:00","n":-4.0,"e":0.3,"d":"night"},{"t":"2019-12-25T02:00","n":-5.5,"e":0.2,"d":"night"},{"t":"2019-12-25T04:00","n":-7.0,"e":0.0,"d":"night"},{"t":"2019-12-25T06:00","n":2.1,"e":0.3,"d":"day"},{"t":"2019-12-25T08:00","n":4.4,"e":2.5,"d":"day"},{"t":"2019-12-25T10:00","n":6.3,"e":3.95,"d":"day"},{"t":"2019-12-25T12:00","n":8.5,"e":5.4,"d":"day"},{"t":"2019-12-25T14:00","n":7.7,"e":4.9,"d":"day"},{"t":"2019-12-25T16:00","n":5.4,"e":3.0,"d":"day"},{"t":"2019-12-25T18:00","n":-1.8,"e":2.0,"d":"night"},{"t":"2019-12-25T20:00","n":-4.6,"e":1.0,"d":"night"},{"t":"2019-12-25T22:00","n":-8.2,"e":0.6,"d":"night"},
{"t":"2019-12-26T00:00","n":-5.0,"e":0.2,"d":"night"},{"t":"2019-12-26T02:00","n":-6.3,"e":0.1,"d":"night"},{"t":"2019-12-26T04:00","n":-3.5,"e":0.0,"d":"night"},{"t":"2019-12-26T06:00","n":3.0,"e":0.2,"d":"day"},{"t":"2019-12-26T08:00","n":5.1,"e":2.0,"d":"day"},{"t":"2019-12-26T10:00","n":6.9,"e":3.1,"d":"day"},{"t":"2019-12-26T12:00","n":8.0,"e":4.1,"d":"day"},{"t":"2019-12-26T14:00","n":6.0,"e":3.5,"d":"day"},{"t":"2019-12-26T16:00","n":3.8,"e":2.6,"d":"day"},{"t":"2019-12-26T18:00","n":2.4,"e":1.0,"d":"night"},{"t":"2019-12-26T20:00","n":-2.4,"e":0.6,"d":"night"},{"t":"2019-12-26T22:00","n":-5.8,"e":0.3,"d":"night"},
{"t":"2019-12-27T00:00","n":-3.4,"e":0.3,"d":"night"},{"t":"2019-12-27T02:00","n":-4.5,"e":0.2,"d":"night"},{"t":"2019-12-27T04:00","n":-5.6,"e":0.0,"d":"night"},{"t":"2019-12-27T06:00","n":4.1,"e":0.3,"d":"day"},{"t":"2019-12-27T08:00","n":6.5,"e":2.25,"d":"day"},{"t":"2019-12-27T10:00","n":8.2,"e":3.8,"d":"day"},{"t":"2019-12-27T12:00","n":9.6,"e":6.0,"d":"day"},{"t":"2019-12-27T14:00","n":9.1,"e":4.85,"d":"day"},{"t":"2019-12-27T16:00","n":5.1,"e":3.45,"d":"day"},{"t":"2019-12-27T18:00","n":1.3,"e":1.5,"d":"night"},{"t":"2019-12-27T20:00","n":-1.5,"e":0.8,"d":"night"},{"t":"2019-12-27T22:00","n":-4.2,"e":0.4,"d":"night"},
{"t":"2019-12-28T00:00","n":-3.0,"e":0.2,"d":"night"},{"t":"2019-12-28T02:00","n":-4.0,"e":0.1,"d":"night"},{"t":"2019-12-28T04:00","n":-5.5,"e":0.0,"d":"night"},{"t":"2019-12-28T06:00","n":3.2,"e":0.3,"d":"day"},{"t":"2019-12-28T08:00","n":5.4,"e":2.25,"d":"day"},{"t":"2019-12-28T10:00","n":7.2,"e":4.4,"d":"day"},{"t":"2019-12-28T12:00","n":8.5,"e":4.85,"d":"day"},{"t":"2019-12-28T14:00","n":6.6,"e":3.5,"d":"day"},{"t":"2019-12-28T16:00","n":4.4,"e":1.5,"d":"day"},{"t":"2019-12-28T18:00","n":3.8,"e":0.73,"d":"night"},{"t":"2019-12-28T20:00","n":2.25,"e":0.4,"d":"night"},{"t":"2019-12-28T22:00","n":-1.5,"e":0.2,"d":"night"},
{"t":"2019-12-29T00:00","n":-2.0,"e":0.3,"d":"night"},{"t":"2019-12-29T02:00","n":-4.6,"e":0.0,"d":"night"},{"t":"2019-12-29T04:00","n":-5.5,"e":-0.1,"d":"night"},{"t":"2019-12-29T06:00","n":0.06,"e":0.3,"d":"day"},{"t":"2019-12-29T08:00","n":3.3,"e":2.3,"d":"day"},{"t":"2019-12-29T10:00","n":6.0,"e":3.8,"d":"day"},{"t":"2019-12-29T12:00","n":7.7,"e":4.3,"d":"day"},{"t":"2019-12-29T14:00","n":5.1,"e":3.5,"d":"day"},{"t":"2019-12-29T16:00","n":1.0,"e":2.7,"d":"day"},{"t":"2019-12-29T18:00","n":2.25,"e":1.5,"d":"night"},{"t":"2019-12-29T20:00","n":0.4,"e":0.67,"d":"night"},{"t":"2019-12-29T22:00","n":-2.4,"e":0.3,"d":"night"},
{"t":"2019-12-30T00:00","n":-2.2,"e":-0.85,"d":"night"},{"t":"2019-12-30T02:00","n":-4.5,"e":0.1,"d":"night"},{"t":"2019-12-30T04:00","n":-6.0,"e":0.0,"d":"night"},{"t":"2019-12-30T06:00","n":0.4,"e":0.3,"d":"day"},{"t":"2019-12-30T08:00","n":2.9,"e":3.0,"d":"day"},{"t":"2019-12-30T10:00","n":4.75,"e":4.45,"d":"day"},{"t":"2019-12-30T12:00","n":6.2,"e":5.1,"d":"day"},{"t":"2019-12-30T14:00","n":5.6,"e":3.8,"d":"day"},{"t":"2019-12-30T16:00","n":1.6,"e":2.25,"d":"day"},{"t":"2019-12-30T18:00","n":-1.2,"e":0.67,"d":"night"},{"t":"2019-12-30T20:00","n":-3.4,"e":0.4,"d":"night"},{"t":"2019-12-30T22:00","n":-5.2,"e":0.2,"d":"night"},
{"t":"2019-12-31T00:00","n":-4.0,"e":0.2,"d":"night"},{"t":"2019-12-31T02:00","n":-5.4,"e":0.1,"d":"night"},{"t":"2019-12-31T04:00","n":-6.6,"e":0.0,"d":"night"},{"t":"2019-12-31T06:00","n":2.25,"e":0.2,"d":"day"},{"t":"2019-12-31T08:00","n":4.4,"e":2.3,"d":"day"},{"t":"2019-12-31T10:00","n":6.0,"e":3.7,"d":"day"},{"t":"2019-12-31T12:00","n":7.4,"e":4.3,"d":"day"},{"t":"2019-12-31T14:00","n":5.0,"e":4.1,"d":"day"},{"t":"2019-12-31T16:00","n":3.5,"e":2.7,"d":"day"},{"t":"2019-12-31T18:00","n":-1.6,"e":1.8,"d":"night"},{"t":"2019-12-31T20:00","n":-3.5,"e":1.25,"d":"night"},{"t":"2019-12-31T22:00","n":-5.7,"e":0.5,"d":"night"},
{"t":"2020-01-01T00:00","n":-4.5,"e":0.3,"d":"night"},{"t":"2020-01-01T02:00","n":-6.2,"e":0.1,"d":"night"},{"t":"2020-01-01T04:00","n":-7.0,"e":0.0,"d":"night"},{"t":"2020-01-01T06:00","n":3.5,"e":0.3,"d":"day"},{"t":"2020-01-01T08:00","n":5.4,"e":2.25,"d":"day"},{"t":"2020-01-01T10:00","n":6.9,"e":3.5,"d":"day"},{"t":"2020-01-01T12:00","n":7.9,"e":4.4,"d":"day"},{"t":"2020-01-01T14:00","n":6.3,"e":3.95,"d":"day"},{"t":"2020-01-01T16:00","n":4.1,"e":3.0,"d":"day"},{"t":"2020-01-01T18:00","n":-1.5,"e":1.45,"d":"night"},{"t":"2020-01-01T20:00","n":-4.0,"e":1.0,"d":"night"},{"t":"2020-01-01T22:00","n":-6.5,"e":0.5,"d":"night"},
{"t":"2020-01-02T00:00","n":-3.5,"e":0.3,"d":"night"},{"t":"2020-01-02T02:00","n":-5.0,"e":0.2,"d":"night"},{"t":"2020-01-02T04:00","n":-6.2,"e":0.0,"d":"night"},{"t":"2020-01-02T06:00","n":1.9,"e":0.2,"d":"day"},{"t":"2020-01-02T08:00","n":5.0,"e":2.0,"d":"day"},{"t":"2020-01-02T10:00","n":7.0,"e":2.5,"d":"day"},{"t":"2020-01-02T12:00","n":8.5,"e":3.35,"d":"day"},{"t":"2020-01-02T14:00","n":6.0,"e":3.0,"d":"day"},{"t":"2020-01-02T16:00","n":4.1,"e":1.75,"d":"day"},{"t":"2020-01-02T18:00","n":-0.9,"e":1.9,"d":"night"},{"t":"2020-01-02T20:00","n":-3.0,"e":1.3,"d":"night"},{"t":"2020-01-02T22:00","n":-5.6,"e":0.6,"d":"night"},
{"t":"2020-01-03T00:00","n":-4.0,"e":0.2,"d":"night"},{"t":"2020-01-03T02:00","n":-5.8,"e":0.1,"d":"night"},{"t":"2020-01-03T04:00","n":-6.5,"e":0.0,"d":"night"},{"t":"2020-01-03T06:00","n":1.5,"e":0.2,"d":"day"},{"t":"2020-01-03T08:00","n":4.8,"e":1.5,"d":"day"},{"t":"2020-01-03T10:00","n":6.5,"e":2.5,"d":"day"},{"t":"2020-01-03T12:00","n":8.0,"e":3.05,"d":"day"},{"t":"2020-01-03T14:00","n":7.3,"e":2.3,"d":"day"},{"t":"2020-01-03T16:00","n":3.9,"e":1.2,"d":"day"},{"t":"2020-01-03T18:00","n":-2.0,"e":1.0,"d":"night"},{"t":"2020-01-03T20:00","n":-4.6,"e":0.5,"d":"night"},{"t":"2020-01-03T22:00","n":-6.0,"e":-0.73,"d":"night"},
{"t":"2020-01-04T00:00","n":-4.2,"e":0.2,"d":"night"},{"t":"2020-01-04T02:00","n":-6.5,"e":0.1,"d":"night"},{"t":"2020-01-04T04:00","n":-5.5,"e":0.0,"d":"night"},{"t":"2020-01-04T06:00","n":-2.7,"e":0.3,"d":"day"},{"t":"2020-01-04T08:00","n":1.0,"e":2.0,"d":"day"},{"t":"2020-01-04T10:00","n":4.7,"e":2.85,"d":"day"},{"t":"2020-01-04T12:00","n":8.2,"e":3.35,"d":"day"},{"t":"2020-01-04T14:00","n":6.6,"e":2.5,"d":"day"},{"t":"2020-01-04T16:00","n":5.7,"e":1.4,"d":"day"},{"t":"2020-01-04T18:00","n":-1.8,"e":0.9,"d":"night"},{"t":"2020-01-04T20:00","n":-5.0,"e":0.5,"d":"night"},{"t":"2020-01-04T22:00","n":-9.0,"e":0.2,"d":"night"},
{"t":"2020-01-05T00:00","n":-6.2,"e":0.2,"d":"night"},{"t":"2020-01-05T02:00","n":-7.0,"e":0.1,"d":"night"},{"t":"2020-01-05T04:00","n":-5.0,"e":0.0,"d":"night"},{"t":"2020-01-05T06:00","n":1.2,"e":0.2,"d":"day"},{"t":"2020-01-05T08:00","n":3.8,"e":1.6,"d":"day"},{"t":"2020-01-05T10:00","n":6.6,"e":2.75,"d":"day"},{"t":"2020-01-05T12:00","n":8.0,"e":3.1,"d":"day"},{"t":"2020-01-05T14:00","n":5.7,"e":2.25,"d":"day"},{"t":"2020-01-05T16:00","n":4.8,"e":1.2,"d":"day"},{"t":"2020-01-05T18:00","n":-1.0,"e":1.0,"d":"night"},{"t":"2020-01-05T20:00","n":-3.3,"e":0.55,"d":"night"},{"t":"2020-01-05T22:00","n":-5.8,"e":0.3,"d":"night"},
{"t":"2020-01-06T00:00","n":-3.5,"e":0.2,"d":"night"},{"t":"2020-01-06T02:00","n":-5.5,"e":0.1,"d":"night"},{"t":"2020-01-06T04:00","n":-6.8,"e":0.0,"d":"night"},{"t":"2020-01-06T06:00","n":0.7,"e":0.3,"d":"day"},{"t":"2020-01-06T08:00","n":3.2,"e":2.2,"d":"day"},{"t":"2020-01-06T10:00","n":6.6,"e":3.2,"d":"day"},{"t":"2020-01-06T12:00","n":10.1,"e":3.7,"d":"day"},{"t":"2020-01-06T14:00","n":9.1,"e":2.7,"d":"day"},{"t":"2020-01-06T16:00","n":5.7,"e":1.6,"d":"day"},{"t":"2020-01-06T18:00","n":-1.4,"e":1.15,"d":"night"},{"t":"2020-01-06T20:00","n":-2.75,"e":0.6,"d":"night"},{"t":"2020-01-06T22:00","n":-5.2,"e":0.3,"d":"night"},
{"t":"2020-01-07T00:00","n":-4.7,"e":0.3,"d":"night"},{"t":"2020-01-07T02:00","n":-6.2,"e":0.1,"d":"night"},{"t":"2020-01-07T04:00","n":-5.0,"e":0.0,"d":"night"},{"t":"2020-01-07T06:00","n":-0.6,"e":0.2,"d":"day"},{"t":"2020-01-07T08:00","n":2.25,"e":2.0,"d":"day"},{"t":"2020-01-07T10:00","n":5.0,"e":3.0,"d":"day"},{"t":"2020-01-07T12:00","n":8.0,"e":3.8,"d":"day"},{"t":"2020-01-07T14:00","n":6.9,"e":3.45,"d":"day"},{"t":"2020-01-07T16:00","n":3.7,"e":2.5,"d":"day"},{"t":"2020-01-07T18:00","n":-0.9,"e":0.97,"d":"night"},{"t":"2020-01-07T20:00","n":-3.0,"e":0.5,"d":"night"},{"t":"2020-01-07T22:00","n":-5.9,"e":0.2,"d":"night"},
{"t":"2020-01-08T00:00","n":-3.7,"e":0.2,"d":"night"},{"t":"2020-01-08T02:00","n":-6.0,"e":0.1,"d":"night"},{"t":"2020-01-08T04:00","n":-6.8,"e":0.0,"d":"night"},{"t":"2020-01-08T06:00","n":0.5,"e":0.3,"d":"day"},{"t":"2020-01-08T08:00","n":3.5,"e":2.5,"d":"day"},{"t":"2020-01-08T10:00","n":6.0,"e":3.35,"d":"day"},{"t":"2020-01-08T12:00","n":9.1,"e":3.9,"d":"day"},{"t":"2020-01-08T14:00","n":7.2,"e":3.0,"d":"day"},{"t":"2020-01-08T16:00","n":4.75,"e":1.95,"d":"day"},{"t":"2020-01-08T18:00","n":4.75,"e":1.95,"d":"night"},{"t":"2020-01-08T20:00","n":-1.6,"e":1.64,"d":"night"},{"t":"2020-01-08T22:00","n":-4.5,"e":1.3,"d":"night"},
{"t":"2020-01-09T00:00","n":-3.0,"e":0.2,"d":"night"},{"t":"2020-01-09T02:00","n":-5.0,"e":0.1,"d":"night"},{"t":"2020-01-09T04:00","n":-6.8,"e":0.0,"d":"night"},{"t":"2020-01-09T06:00","n":1.6,"e":0.2,"d":"day"},{"t":"2020-01-09T08:00","n":4.0,"e":1.75,"d":"day"},{"t":"2020-01-09T10:00","n":6.0,"e":2.6,"d":"day"},{"t":"2020-01-09T12:00","n":8.0,"e":2.85,"d":"day"},{"t":"2020-01-09T14:00","n":7.2,"e":2.25,"d":"day"},{"t":"2020-01-09T16:00","n":5.0,"e":1.3,"d":"day"},{"t":"2020-01-09T18:00","n":-2.6,"e":1.3,"d":"night"},{"t":"2020-01-09T20:00","n":-5.4,"e":0.8,"d":"night"},{"t":"2020-01-09T22:00","n":-9.3,"e":0.4,"d":"night"},
{"t":"2020-01-10T00:00","n":-4.5,"e":0.2,"d":"night"},{"t":"2020-01-10T02:00","n":-6.2,"e":0.1,"d":"night"},{"t":"2020-01-10T04:00","n":-5.8,"e":0.0,"d":"night"},{"t":"2020-01-10T06:00","n":0.9,"e":0.2,"d":"day"},{"t":"2020-01-10T08:00","n":3.2,"e":1.5,"d":"day"},{"t":"2020-01-10T10:00","n":5.7,"e":2.3,"d":"day"},{"t":"2020-01-10T12:00","n":9.4,"e":2.7,"d":"day"},{"t":"2020-01-10T14:00","n":7.9,"e":1.75,"d":"day"},{"t":"2020-01-10T16:00","n":4.75,"e":0.9,"d":"day"},{"t":"2020-01-10T18:00","n":2.7,"e":0.67,"d":"night"},{"t":"2020-01-10T20:00","n":-1.5,"e":0.4,"d":"night"},{"t":"2020-01-10T22:00","n":-4.2,"e":0.2,"d":"night"},
{"t":"2020-01-11T00:00","n":-2.5,"e":0.2,"d":"night"},{"t":"2020-01-11T02:00","n":-4.8,"e":0.1,"d":"night"},{"t":"2020-01-11T04:00","n":-6.0,"e":0.0,"d":"night"},{"t":"2020-01-11T06:00","n":0.4,"e":0.3,"d":"day"},{"t":"2020-01-11T08:00","n":2.9,"e":2.5,"d":"day"},{"t":"2020-01-11T10:00","n":5.4,"e":3.5,"d":"day"},{"t":"2020-01-11T12:00","n":9.4,"e":4.2,"d":"day"},{"t":"2020-01-11T14:00","n":7.4,"e":3.95,"d":"day"},{"t":"2020-01-11T16:00","n":4.1,"e":3.0,"d":"day"},{"t":"2020-01-11T18:00","n":0.4,"e":1.2,"d":"night"},{"t":"2020-01-11T20:00","n":-2.4,"e":0.9,"d":"night"},{"t":"2020-01-11T22:00","n":-4.9,"e":0.5,"d":"night"},
{"t":"2020-01-12T00:00","n":-3.4,"e":0.2,"d":"night"},{"t":"2020-01-12T02:00","n":-5.3,"e":0.1,"d":"night"},{"t":"2020-01-12T04:00","n":-5.9,"e":0.0,"d":"night"},{"t":"2020-01-12T06:00","n":1.0,"e":0.3,"d":"day"},{"t":"2020-01-12T08:00","n":4.75,"e":2.5,"d":"day"},{"t":"2020-01-12T10:00","n":6.9,"e":5.0,"d":"day"},{"t":"2020-01-12T12:00","n":8.7,"e":6.1,"d":"day"},{"t":"2020-01-12T14:00","n":6.0,"e":3.5,"d":"day"},{"t":"2020-01-12T16:00","n":3.5,"e":2.0,"d":"day"},{"t":"2020-01-12T18:00","n":3.5,"e":0.8,"d":"night"},{"t":"2020-01-12T20:00","n":-1.0,"e":0.5,"d":"night"},{"t":"2020-01-12T22:00","n":-3.8,"e":0.2,"d":"night"},
{"t":"2020-01-13T00:00","n":-2.8,"e":0.2,"d":"night"},{"t":"2020-01-13T02:00","n":-4.3,"e":0.1,"d":"night"},{"t":"2020-01-13T04:00","n":-5.4,"e":0.0,"d":"night"},{"t":"2020-01-13T06:00","n":0.7,"e":0.2,"d":"day"},{"t":"2020-01-13T08:00","n":3.2,"e":2.2,"d":"day"},{"t":"2020-01-13T10:00","n":6.0,"e":2.7,"d":"day"},{"t":"2020-01-13T12:00","n":9.0,"e":3.5,"d":"day"},{"t":"2020-01-13T14:00","n":7.2,"e":3.2,"d":"day"},{"t":"2020-01-13T16:00","n":4.75,"e":1.7,"d":"day"},{"t":"2020-01-13T18:00","n":1.0,"e":0.73,"d":"night"},{"t":"2020-01-13T20:00","n":-0.6,"e":0.5,"d":"night"},{"t":"2020-01-13T22:00","n":-2.8,"e":0.2,"d":"night"},
{"t":"2020-01-14T00:00","n":-4.5,"e":0.2,"d":"night"},{"t":"2020-01-14T02:00","n":-5.2,"e":0.1,"d":"night"},{"t":"2020-01-14T04:00","n":-6.2,"e":0.0,"d":"night"},{"t":"2020-01-14T06:00","n":-2.0,"e":0.3,"d":"day"},{"t":"2020-01-14T08:00","n":0.5,"e":2.25,"d":"day"},{"t":"2020-01-14T10:00","n":3.2,"e":2.85,"d":"day"},{"t":"2020-01-14T12:00","n":6.6,"e":3.5,"d":"day"},{"t":"2020-01-14T14:00","n":5.0,"e":3.2,"d":"day"},{"t":"2020-01-14T16:00","n":-0.4,"e":1.5,"d":"day"},{"t":"2020-01-14T18:00","n":-0.6,"e":1.1,"d":"night"},{"t":"2020-01-14T20:00","n":-3.8,"e":0.67,"d":"night"},{"t":"2020-01-14T22:00","n":-5.5,"e":0.3,"d":"night"},
{"t":"2020-01-15T00:00","n":-7.6,"e":0.2,"d":"night"},
{"t":"2020-01-16T06:00","n":2.7,"e":0.4,"d":"day"},{"t":"2020-01-16T08:00","n":5.1,"e":3.15,"d":"day"},{"t":"2020-01-16T10:00","n":6.0,"e":4.6,"d":"day"},{"t":"2020-01-16T12:00","n":7.6,"e":5.2,"d":"day"},{"t":"2020-01-16T14:00","n":6.9,"e":3.8,"d":"day"},{"t":"2020-01-16T16:00","n":1.8,"e":1.75,"d":"day"},{"t":"2020-01-16T18:00","n":-1.5,"e":1.1,"d":"night"},{"t":"2020-01-16T20:00","n":-3.6,"e":0.8,"d":"night"},{"t":"2020-01-16T22:00","n":-5.0,"e":0.5,"d":"night"},
{"t":"2020-01-17T00:00","n":-4.0,"e":0.2,"d":"night"},{"t":"2020-01-17T02:00","n":-6.2,"e":0.0,"d":"night"},{"t":"2020-01-17T04:00","n":-6.8,"e":-0.1,"d":"night"},{"t":"2020-01-17T06:00","n":1.6,"e":0.3,"d":"day"},{"t":"2020-01-17T08:00","n":5.4,"e":3.2,"d":"day"},{"t":"2020-01-17T10:00","n":8.6,"e":4.1,"d":"day"},{"t":"2020-01-17T12:00","n":10.4,"e":4.7,"d":"day"},{"t":"2020-01-17T14:00","n":7.9,"e":4.4,"d":"day"},{"t":"2020-01-17T16:00","n":4.1,"e":3.7,"d":"day"},{"t":"2020-01-17T18:00","n":-2.4,"e":2.07,"d":"night"},{"t":"2020-01-17T20:00","n":-4.4,"e":1.64,"d":"night"},{"t":"2020-01-17T22:00","n":-6.0,"e":0.9,"d":"night"},
{"t":"2020-01-18T00:00","n":-4.5,"e":0.2,"d":"night"},{"t":"2020-01-18T02:00","n":-6.0,"e":0.1,"d":"night"},{"t":"2020-01-18T04:00","n":-7.0,"e":0.0,"d":"night"},{"t":"2020-01-18T06:00","n":3.3,"e":0.3,"d":"day"},{"t":"2020-01-18T08:00","n":5.0,"e":1.75,"d":"day"},{"t":"2020-01-18T10:00","n":6.2,"e":2.6,"d":"day"},{"t":"2020-01-18T12:00","n":7.6,"e":3.35,"d":"day"},{"t":"2020-01-18T14:00","n":6.6,"e":3.0,"d":"day"},{"t":"2020-01-18T16:00","n":4.5,"e":2.25,"d":"day"},{"t":"2020-01-18T18:00","n":1.6,"e":1.7,"d":"night"},{"t":"2020-01-18T20:00","n":-0.25,"e":0.8,"d":"night"},{"t":"2020-01-18T22:00","n":-3.0,"e":0.4,"d":"night"},
{"t":"2020-01-19T00:00","n":-3.0,"e":0.3,"d":"night"},{"t":"2020-01-19T02:00","n":-5.0,"e":0.1,"d":"night"},{"t":"2020-01-19T04:00","n":-6.6,"e":0.0,"d":"night"},{"t":"2020-01-19T06:00","n":-1.2,"e":0.3,"d":"day"},{"t":"2020-01-19T08:00","n":0.1,"e":2.5,"d":"day"},{"t":"2020-01-19T10:00","n":3.8,"e":3.0,"d":"day"},{"t":"2020-01-19T12:00","n":7.4,"e":3.7,"d":"day"},{"t":"2020-01-19T14:00","n":6.6,"e":3.35,"d":"day"},{"t":"2020-01-19T16:00","n":5.0,"e":2.0,"d":"day"},{"t":"2020-01-19T18:00","n":-1.0,"e":2.07,"d":"night"},{"t":"2020-01-19T20:00","n":-4.0,"e":1.5,"d":"night"},{"t":"2020-01-19T22:00","n":-5.2,"e":0.5,"d":"night"},
{"t":"2020-01-20T00:00","n":-4.5,"e":0.2,"d":"night"},{"t":"2020-01-20T02:00","n":-6.0,"e":0.1,"d":"night"},{"t":"2020-01-20T04:00","n":-7.0,"e":0.0,"d":"night"},{"t":"2020-01-20T06:00","n":-1.5,"e":0.2,"d":"day"},{"t":"2020-01-20T08:00","n":2.2,"e":2.0,"d":"day"},{"t":"2020-01-20T10:00","n":5.6,"e":2.5,"d":"day"},{"t":"2020-01-20T12:00","n":7.4,"e":3.15,"d":"day"},{"t":"2020-01-20T14:00","n":6.5,"e":2.85,"d":"day"},{"t":"2020-01-20T16:00","n":3.8,"e":1.6,"d":"day"},{"t":"2020-01-20T18:00","n":-1.8,"e":3.0,"d":"night"},{"t":"2020-01-20T20:00","n":-4.0,"e":2.2,"d":"night"},{"t":"2020-01-20T22:00","n":-6.0,"e":1.5,"d":"night"},
{"t":"2020-01-21T00:00","n":-3.5,"e":0.2,"d":"night"},{"t":"2020-01-21T02:00","n":-5.5,"e":0.1,"d":"night"},{"t":"2020-01-21T04:00","n":-6.8,"e":0.0,"d":"night"},{"t":"2020-01-21T06:00","n":-4.2,"e":0.3,"d":"day"},{"t":"2020-01-21T08:00","n":0.7,"e":1.75,"d":"day"},{"t":"2020-01-21T10:00","n":4.4,"e":2.7,"d":"day"},{"t":"2020-01-21T12:00","n":6.8,"e":3.15,"d":"day"},{"t":"2020-01-21T14:00","n":5.8,"e":2.25,"d":"day"},{"t":"2020-01-21T16:00","n":2.25,"e":1.2,"d":"day"},{"t":"2020-01-21T18:00","n":-2.0,"e":1.5,"d":"night"},{"t":"2020-01-21T20:00","n":-4.4,"e":1.15,"d":"night"},{"t":"2020-01-21T22:00","n":-5.5,"e":0.8,"d":"night"},
{"t":"2020-01-22T00:00","n":-9.3,"e":0.2,"d":"night"},{"t":"2020-01-22T02:00","n":-6.0,"e":0.1,"d":"night"},{"t":"2020-01-22T04:00","n":-4.0,"e":0.0,"d":"night"},{"t":"2020-01-22T06:00","n":-1.5,"e":0.2,"d":"day"},{"t":"2020-01-22T08:00","n":1.6,"e":1.2,"d":"day"},{"t":"2020-01-22T10:00","n":3.2,"e":1.9,"d":"day"},{"t":"2020-01-22T12:00","n":4.4,"e":2.25,"d":"day"},{"t":"2020-01-22T14:00","n":3.8,"e":1.5,"d":"day"},{"t":"2020-01-22T16:00","n":2.25,"e":0.9,"d":"day"},{"t":"2020-01-22T18:00","n":-2.5,"e":0.73,"d":"night"},{"t":"2020-01-22T20:00","n":-4.5,"e":0.4,"d":"night"},{"t":"2020-01-22T22:00","n":-8.4,"e":0.2,"d":"night"},
{"t":"2020-01-23T00:00","n":-5.0,"e":0.2,"d":"night"},{"t":"2020-01-23T02:00","n":-3.5,"e":0.1,"d":"night"},{"t":"2020-01-23T04:00","n":-2.1,"e":0.0,"d":"night"},{"t":"2020-01-23T06:00","n":0.7,"e":0.3,"d":"day"},{"t":"2020-01-23T08:00","n":3.5,"e":1.75,"d":"day"},{"t":"2020-01-23T10:00","n":6.0,"e":2.7,"d":"day"},{"t":"2020-01-23T12:00","n":8.6,"e":3.15,"d":"day"},{"t":"2020-01-23T14:00","n":6.9,"e":2.25,"d":"day"},{"t":"2020-01-23T16:00","n":5.1,"e":1.2,"d":"day"},{"t":"2020-01-23T18:00","n":6.3,"e":0.67,"d":"night"},{"t":"2020-01-23T20:00","n":4.1,"e":0.4,"d":"night"},{"t":"2020-01-23T22:00","n":3.0,"e":0.2,"d":"night"},
{"t":"2020-01-24T00:00","n":0.8,"e":0.2,"d":"night"},{"t":"2020-01-24T02:00","n":-2.0,"e":0.1,"d":"night"},{"t":"2020-01-24T04:00","n":-4.0,"e":0.0,"d":"night"},{"t":"2020-01-24T06:00","n":1.9,"e":0.3,"d":"day"},{"t":"2020-01-24T08:00","n":3.1,"e":1.75,"d":"day"},{"t":"2020-01-24T10:00","n":5.1,"e":2.85,"d":"day"},{"t":"2020-01-24T12:00","n":6.9,"e":4.0,"d":"day"},{"t":"2020-01-24T14:00","n":6.0,"e":2.25,"d":"day"},{"t":"2020-01-24T16:00","n":4.1,"e":1.2,"d":"day"},{"t":"2020-01-24T18:00","n":-4.8,"e":0.67,"d":"night"},{"t":"2020-01-24T20:00","n":-6.0,"e":0.4,"d":"night"},{"t":"2020-01-24T22:00","n":-7.2,"e":0.2,"d":"night"},
{"t":"2020-01-25T00:00","n":-5.0,"e":0.2,"d":"night"},{"t":"2020-01-25T02:00","n":-6.0,"e":0.1,"d":"night"},{"t":"2020-01-25T04:00","n":-4.5,"e":0.0,"d":"night"},{"t":"2020-01-25T06:00","n":-1.2,"e":0.2,"d":"day"},{"t":"2020-01-25T08:00","n":0.06,"e":1.6,"d":"day"},{"t":"2020-01-25T10:00","n":3.8,"e":2.0,"d":"day"},{"t":"2020-01-25T12:00","n":7.6,"e":2.4,"d":"day"},{"t":"2020-01-25T14:00","n":6.6,"e":1.8,"d":"day"},{"t":"2020-01-25T16:00","n":5.7,"e":1.0,"d":"day"},{"t":"2020-01-25T18:00","n":-2.8,"e":1.64,"d":"night"},{"t":"2020-01-25T20:00","n":-4.0,"e":1.0,"d":"night"},{"t":"2020-01-25T22:00","n":-4.8,"e":0.5,"d":"night"},
{"t":"2020-01-26T00:00","n":-5.4,"e":0.3,"d":"night"},{"t":"2020-01-26T02:00","n":-4.5,"e":0.2,"d":"night"}
]
},
"spacing": 5,
"resolve": {"scale": {"color": "independent", "x": "independent", "y": "independent"}},
"vconcat": [
{
 "width": 817, "height": 262,
 "layer": [
  {"data": {"name": "pr"},
   "mark": {"type": "bar", "size": 10.5, "color": "#9ba3b8", "clip": true},
   "encoding": {
    "x": {"field": "t", "type": "temporal", "scale": {"domain": [{"year":2019,"month":11,"date":19,"hours":19},{"year":2020,"month":1,"date":29,"hours":5}]}, "axis": {"orient": "top", "values": [{"year":2019,"month":12,"date":1},{"year":2019,"month":12,"date":15},{"year":2020,"month":1,"date":1},{"year":2020,"month":1,"date":15}], "labels": false, "title": null, "tickSize": 7}},
    "y": {"field": "p", "type": "quantitative", "scale": {"domain": [0.09, 14.175]}, "axis": {"orient": "right", "values": [5, 10], "title": "Precipitation [mm]", "tickSize": 7, "labelPadding": 2, "titlePadding": 14}}
   }},
  {"layer": [
    {"data": {"name": "swc"},
     "mark": {"type": "line", "color": "#4f7fdc", "strokeWidth": 2.2, "clip": true},
     "encoding": {
      "x": {"field": "t", "type": "temporal", "scale": {"domain": [{"year":2019,"month":11,"date":19,"hours":19},{"year":2020,"month":1,"date":29,"hours":5}]}, "axis": {"orient": "bottom", "values": [{"year":2019,"month":12,"date":1},{"year":2019,"month":12,"date":15},{"year":2020,"month":1,"date":1},{"year":2020,"month":1,"date":15}], "labels": false, "title": null, "tickSize": 9}},
      "y": {"field": "v", "type": "quantitative", "scale": {"domain": [0.18, 28.35]}, "axis": {"orient": "left", "values": [10, 20], "title": ["Soil water", "content [%vol]"], "tickSize": 8, "labelPadding": 4, "minExtent": 50, "maxExtent": 50, "titlePadding": 29, "titleLineHeight": 33}},
      "detail": {"field": "s", "type": "nominal"}
     }},
    {"data": {"name": "per"},
     "mark": {"type": "text", "fontSize": 36, "font": "Liberation Sans", "color": "#000000", "align": "center", "baseline": "middle"},
     "encoding": {
      "x": {"field": "t", "type": "temporal", "scale": {"domain": [{"year":2019,"month":11,"date":19,"hours":19},{"year":2020,"month":1,"date":29,"hours":5}]}, "axis": {"orient": "bottom", "values": [{"year":2019,"month":12,"date":1},{"year":2019,"month":12,"date":15},{"year":2020,"month":1,"date":1},{"year":2020,"month":1,"date":15}], "labels": false, "title": null, "tickSize": 9}},
      "y": {"field": "v", "type": "quantitative", "scale": {"domain": [0.18, 28.35]}, "axis": {"orient": "left", "values": [10, 20], "title": ["Soil water", "content [%vol]"], "tickSize": 8, "labelPadding": 4, "minExtent": 50, "maxExtent": 50, "titlePadding": 29, "titleLineHeight": 33}},
      "text": {"field": "lab"}
     }},
    {"data": {"name": "red"},
     "mark": {"type": "rule", "color": "#c0504d", "strokeWidth": 2, "opacity": 0.8},
     "encoding": {"x": {"field": "t", "type": "temporal", "scale": {"domain": [{"year":2019,"month":11,"date":19,"hours":19},{"year":2020,"month":1,"date":29,"hours":5}]}, "axis": {"orient": "bottom", "values": [{"year":2019,"month":12,"date":1},{"year":2019,"month":12,"date":15},{"year":2020,"month":1,"date":1},{"year":2020,"month":1,"date":15}], "labels": false, "title": null, "tickSize": 9}}}}
  ]}
 ],
 "resolve": {"scale": {"x": "independent", "y": "independent"}, "axis": {"x": "independent", "y": "independent"}}
},
{
 "spacing": 0,
 "resolve": {"scale": {"color": "independent", "x": "independent", "y": "independent"}},
 "vconcat": [
  {
   "width": 817, "height": 272,
   "layer": [
    {"data": {"name": "obs"},
     "mark": {"type": "point", "filled": true, "size": 150, "stroke": "white", "strokeWidth": 1, "opacity": 1},
     "encoding": {
      "x": {"field": "t", "type": "temporal", "scale": {"domain": [{"year":2019,"month":11,"date":19,"hours":19},{"year":2020,"month":1,"date":29,"hours":5}]}, "axis": null},
      "y": {"field": "n", "type": "quantitative", "scale": {"domain": [-11.85, 13.66]}, "axis": {"values": [-10, -5, 0, 5, 10], "title": ["NEE CO₂ flux", "[µmol m⁻² s⁻¹]"], "tickSize": 8, "labelPadding": 4, "minExtent": 50, "maxExtent": 50, "titlePadding": 29, "titleLineHeight": 33}},
      "color": {"field": "d", "type": "nominal", "scale": {"domain": ["day", "night"], "range": ["#FFA500", "#000000"]}, "legend": null}
     }},
    {"data": {"name": "zero"},
     "mark": {"type": "rule", "color": "#2f6be0", "strokeWidth": 1.3},
     "encoding": {"y": {"field": "n", "type": "quantitative", "scale": {"domain": [-11.85, 13.66]}, "axis": {"values": [-10, -5, 0, 5, 10], "title": ["NEE CO₂ flux", "[µmol m⁻² s⁻¹]"], "tickSize": 8, "labelPadding": 4, "minExtent": 50, "maxExtent": 50, "titlePadding": 29, "titleLineHeight": 33}}}},
    {"data": {"name": "red"},
     "mark": {"type": "rule", "color": "#c0504d", "strokeWidth": 2, "opacity": 0.8},
     "encoding": {"x": {"field": "t", "type": "temporal", "scale": {"domain": [{"year":2019,"month":11,"date":19,"hours":19},{"year":2020,"month":1,"date":29,"hours":5}]}, "axis": null}}},
    {"data": {"name": "arr"},
     "mark": {"type": "rule", "color": "#000000", "strokeWidth": 1.5},
     "encoding": {
      "x": {"field": "t", "type": "temporal", "scale": {"domain": [{"year":2019,"month":11,"date":19,"hours":19},{"year":2020,"month":1,"date":29,"hours":5}]}, "axis": null},
      "y": {"field": "n", "type": "quantitative", "scale": {"domain": [-11.85, 13.66]}, "axis": {"values": [-10, -5, 0, 5, 10], "title": ["NEE CO₂ flux", "[µmol m⁻² s⁻¹]"], "tickSize": 8, "labelPadding": 4, "minExtent": 50, "maxExtent": 50, "titlePadding": 29, "titleLineHeight": 33}},
      "y2": {"field": "n2"}
     }},
    {"data": {"name": "head"},
     "mark": {"type": "point", "filled": true, "size": 230, "color": "#000000", "opacity": 1},
     "encoding": {
      "x": {"field": "t", "type": "temporal", "scale": {"domain": [{"year":2019,"month":11,"date":19,"hours":19},{"year":2020,"month":1,"date":29,"hours":5}]}, "axis": null},
      "y": {"field": "n", "type": "quantitative", "scale": {"domain": [-11.85, 13.66]}, "axis": {"values": [-10, -5, 0, 5, 10], "title": ["NEE CO₂ flux", "[µmol m⁻² s⁻¹]"], "tickSize": 8, "labelPadding": 4, "minExtent": 50, "maxExtent": 50, "titlePadding": 29, "titleLineHeight": 33}},
      "shape": {"field": "sh", "type": "nominal", "scale": null, "legend": null}
     }},
    {"data": {"name": "lab"},
     "mark": {"type": "text", "fontSize": 31, "font": "Liberation Sans", "color": "#333333", "align": "left", "baseline": "middle"},
     "encoding": {
      "x": {"field": "t", "type": "temporal", "scale": {"domain": [{"year":2019,"month":11,"date":19,"hours":19},{"year":2020,"month":1,"date":29,"hours":5}]}, "axis": null},
      "y": {"field": "n", "type": "quantitative", "scale": {"domain": [-11.85, 13.66]}, "axis": {"values": [-10, -5, 0, 5, 10], "title": ["NEE CO₂ flux", "[µmol m⁻² s⁻¹]"], "tickSize": 8, "labelPadding": 4, "minExtent": 50, "maxExtent": 50, "titlePadding": 29, "titleLineHeight": 33}},
      "text": {"field": "lab"}
     }}
   ]
  },
  {
   "width": 817, "height": 273,
   "layer": [
    {"data": {"name": "obs"},
     "mark": {"type": "point", "filled": true, "size": 150, "stroke": "white", "strokeWidth": 1, "opacity": 1},
     "encoding": {
      "x": {"field": "t", "type": "temporal", "scale": {"domain": [{"year":2019,"month":11,"date":19,"hours":19},{"year":2020,"month":1,"date":29,"hours":5}]}, "axis": {"values": [{"year":2019,"month":12,"date":1},{"year":2019,"month":12,"date":15},{"year":2020,"month":1,"date":1},{"year":2020,"month":1,"date":15}], "format": "%b %d", "title": "Time", "tickSize": 8, "labelPadding": 8, "titlePadding": 0}},
      "y": {"field": "e", "type": "quantitative", "scale": {"domain": [-1.28, 8.7]}, "axis": {"values": [0, 2, 4, 6, 8], "title": ["ET", "[mmol m⁻² s⁻¹]"], "tickSize": 8, "labelPadding": 4, "minExtent": 50, "maxExtent": 50, "titlePadding": 29, "titleLineHeight": 33}},
      "color": {"field": "d", "type": "nominal", "scale": {"domain": ["day", "night"], "range": ["#FFA500", "#000000"]}, "legend": {"orient": "none", "legendX": 841, "legendY": 78, "title": null, "direction": "vertical", "labelFontSize": 35, "labelFont": "Liberation Sans", "labelColor": "#000000", "symbolType": "circle", "symbolSize": 180, "symbolStrokeWidth": 0, "rowPadding": 27, "labelOffset": 40}}
     }},
    {"data": {"name": "red"},
     "mark": {"type": "rule", "color": "#c0504d", "strokeWidth": 2, "opacity": 0.8},
     "encoding": {"x": {"field": "t", "type": "temporal", "scale": {"domain": [{"year":2019,"month":11,"date":19,"hours":19},{"year":2020,"month":1,"date":29,"hours":5}]}, "axis": {"orient": "top", "values": [{"year":2019,"month":12,"date":1},{"year":2019,"month":12,"date":15},{"year":2020,"month":1,"date":1},{"year":2020,"month":1,"date":15}], "labels": false, "title": null, "tickSize": 10}}}}
   ],
   "resolve": {"scale": {"x": "independent"}, "axis": {"x": "independent"}}
  }
 ]
}
]
}
